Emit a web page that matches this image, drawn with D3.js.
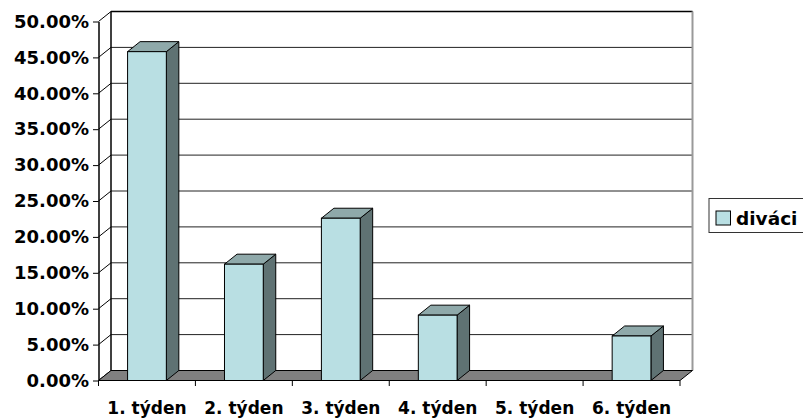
<!DOCTYPE html>
<html>
<head>
<meta charset="utf-8">
<script src="https://cdn.jsdelivr.net/npm/d3@7"></script>
<style>
  body { margin: 0; background: #fff; }
  svg text { font-family: "DejaVu Sans", Verdana, sans-serif; font-weight: bold; fill: #000; }
</style>
</head>
<body>
<div id="chart"></div>
<script>
// data
const categories = ["1. týden", "2. týden", "3. týden", "4. týden", "5. týden", "6. týden"];
const divaci = [0.458, 0.162, 0.226, 0.091, 0, 0.062];
const yTicks = [0, 0.05, 0.1, 0.15, 0.2, 0.25, 0.3, 0.35, 0.4, 0.45, 0.5];
const seriesName = "diváci";

const W = 803, H = 419;
const dx = 12.5, dy = -10; // depth offset of the 3d box

const x = d3.scaleBand().domain(categories).range([98.5, 680]);
const y = d3.scaleLinear().domain([0, 0.5]).range([380.5, 21.5]);
const fmt = d3.format(".2%");

const svg = d3.select('#chart').append('svg')
    .attr('width', W)
    .attr('height', H);

const x0 = x.range()[0], x1 = x.range()[1];
const yb = y(0), yt = y(0.5);

// back wall
svg.append('rect')
    .attr('x', x0 + dx).attr('y', yt + dy)
    .attr('width', x1 - x0).attr('height', yb - yt)
    .attr('fill', '#fff');

// gridlines on back wall
svg.append('g').selectAll('line')
    .data(yTicks.filter(d => d > 0))
    .join('line')
    .attr('x1', x0 + dx).attr('x2', x1 + dx)
    .attr('y1', d => y(d) + dy).attr('y2', d => y(d) + dy)
    .attr('stroke', '#222').attr('stroke-width', 1);

// side wall diagonals
svg.append('g').selectAll('line')
    .data(yTicks)
    .join('line')
    .attr('x1', x0).attr('x2', x0 + dx)
    .attr('y1', d => y(d)).attr('y2', d => y(d) + dy)
    .attr('stroke', '#000').attr('stroke-width', 1);

// back wall edges
svg.append('line')
    .attr('x1', x0 + dx).attr('x2', x0 + dx)
    .attr('y1', yt + dy).attr('y2', yb + dy)
    .attr('stroke', '#000').attr('stroke-width', 1.5);
svg.append('line')
    .attr('x1', x0 + dx).attr('x2', x1 + dx)
    .attr('y1', yt + dy).attr('y2', yt + dy)
    .attr('stroke', '#000').attr('stroke-width', 1.5);
svg.append('line')
    .attr('x1', x1 + dx).attr('x2', x1 + dx)
    .attr('y1', yt + dy).attr('y2', yb + dy)
    .attr('stroke', '#999').attr('stroke-width', 2);

// floor
svg.append('path')
    .attr('d', `M${x0},${yb}L${x1},${yb}L${x1 + dx},${yb + dy}L${x0 + dx},${yb + dy}Z`)
    .attr('fill', '#808080')
    .attr('stroke', '#000').attr('stroke-width', 1);

// bars
const bw = x.bandwidth() * 0.4;
const bars = svg.append('g').selectAll('g')
    .data(categories.map((c, i) => ({ c, v: divaci[i] })))
    .join('g');

bars.filter(d => d.v > 0).each(function (d) {
  const g = d3.select(this);
  const bx0 = x(d.c) + (x.bandwidth() - bw) / 2, bx1 = bx0 + bw;
  const by = y(d.v);
  g.append('path')
      .attr('d', `M${bx1},${by}L${bx1 + dx},${by + dy}L${bx1 + dx},${yb + dy}L${bx1},${yb}Z`)
      .attr('fill', '#5F7273').attr('stroke', '#000').attr('stroke-width', 1);
  g.append('path')
      .attr('d', `M${bx0},${by}L${bx1},${by}L${bx1 + dx},${by + dy}L${bx0 + dx},${by + dy}Z`)
      .attr('fill', '#8FA9AA').attr('stroke', '#000').attr('stroke-width', 1);
  g.append('rect')
      .attr('x', bx0).attr('y', by)
      .attr('width', bw).attr('height', yb - by)
      .attr('fill', '#B9DFE3').attr('stroke', '#000').attr('stroke-width', 1);
});

// y axis
const yAxis = svg.append('g')
    .attr('transform', `translate(${x0},0)`)
    .call(d3.axisLeft(y).tickValues(yTicks).tickFormat(fmt).tickSize(5.5).tickSizeOuter(0).tickPadding(4));
yAxis.select('.domain').attr('stroke', '#000').attr('stroke-width', 1.5);
yAxis.selectAll('.tick line').attr('stroke', '#000');
yAxis.selectAll('.tick text').attr('font-size', 18).attr('fill', '#000');
yAxis.attr('font-family', null);

// x axis
svg.append('line')
    .attr('x1', x0).attr('x2', x1).attr('y1', yb).attr('y2', yb)
    .attr('stroke', '#000').attr('stroke-width', 1);
svg.append('g').selectAll('line')
    .data(categories.concat(['end']))
    .join('line')
    .attr('x1', (d, i) => x0 + i * x.step()).attr('x2', (d, i) => x0 + i * x.step())
    .attr('y1', yb).attr('y2', yb + 5.5)
    .attr('stroke', '#000');
svg.append('g').selectAll('text')
    .data(categories)
    .join('text')
    .attr('x', d => x(d) + x.bandwidth() / 2)
    .attr('y', 408)
    .attr('text-anchor', 'middle')
    .attr('dominant-baseline', 'central')
    .attr('font-size', 17)
    .text(d => d);

// legend
const lg = svg.append('g');
lg.append('rect')
    .attr('x', 709).attr('y', 198.5).attr('width', 110).attr('height', 34)
    .attr('fill', '#fff').attr('stroke', '#333').attr('stroke-width', 1);
lg.append('rect')
    .attr('x', 716).attr('y', 211).attr('width', 14.5).attr('height', 14)
    .attr('fill', '#B9DFE3').attr('stroke', '#000').attr('stroke-width', 1);
lg.append('text')
    .attr('x', 736).attr('y', 218)
    .attr('dominant-baseline', 'central')
    .attr('font-size', 18.5)
    .text(seriesName);
</script>
</body>
</html>
